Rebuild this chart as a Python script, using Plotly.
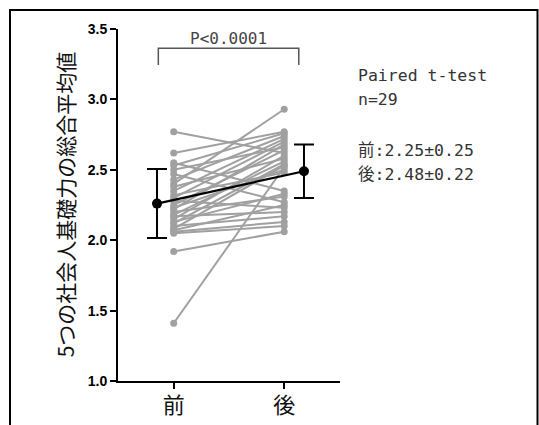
import plotly.graph_objects as go

# ---- data ----
categories = ["前", "後"]
pre_values = [2.77, 2.62, 1.92, 1.41, 2.40,
              2.55, 2.53, 2.50, 2.47, 2.43, 2.38, 2.35, 2.32, 2.30, 2.28, 2.25,
              2.23, 2.22, 2.20, 2.18, 2.17, 2.15, 2.13, 2.12, 2.10, 2.08, 2.07,
              2.06, 2.05]
post_values = [2.62, 2.77, 2.06, 2.52, 2.93,
               2.35, 2.76, 2.66, 2.27, 2.74, 2.58, 2.72, 2.48, 2.70, 2.23, 2.64,
               2.50, 2.68, 2.31, 2.56, 2.20, 2.60, 2.33, 2.54, 2.17, 2.53, 2.25,
               2.13, 2.10]
group_means = [2.26, 2.49]
group_sds = [0.245, 0.19]
p_label = "P<0.0001"
stats_lines = ["Paired t-test", "n=29", "前:2.25±0.25", "後:2.48±0.22"]
y_title = "5つの社会人基礎力の総合平均値"
y_ticks = [1.0, 1.5, 2.0, 2.5, 3.0, 3.5]

# ---- styling / positions ----
W, H = 539, 425
L, R, T, B = 118, 199, 29, 44
PW, PH = W - L - R, H - T - B


def px_x(X):
    return (X - L) / PW


def px_y(Y):
    return (H - B - Y) / PH


mean_x = [-0.151, 1.179]
gray = "#a0a0a0"
mono = "DejaVu Sans Mono, Noto Sans CJK JP, monospace"

fig = go.Figure()

xs, ys = [], []
for a, b in zip(pre_values, post_values):
    xs += [0, 1, None]
    ys += [a, b, None]
fig.add_trace(go.Scatter(x=xs, y=ys, mode="lines+markers",
                         line=dict(color=gray, width=2),
                         marker=dict(color=gray, size=7),
                         hoverinfo="skip", showlegend=False))

fig.add_trace(go.Scatter(x=mean_x, y=group_means, mode="lines+markers",
                         line=dict(color="black", width=2.2),
                         marker=dict(color="black", size=10),
                         error_y=dict(type="data", array=group_sds, visible=True,
                                      color="black", thickness=2, width=10),
                         showlegend=False))

# significance bracket
fig.add_trace(go.Scatter(x=[-0.139, -0.139, 1.132, 1.132],
                         y=[3.244, 3.363, 3.363, 3.244], mode="lines",
                         line=dict(color="#555555", width=1.5),
                         hoverinfo="skip", showlegend=False))
fig.add_annotation(x=0.497, y=3.43, xref="x", yref="y", text=p_label,
                   showarrow=False, font=dict(family=mono, size=16, color="#444444"),
                   xanchor="center", yanchor="middle")

# stats text
ly = [75, 99.5, 150, 174]
for t, yy in zip(stats_lines, ly):
    fig.add_annotation(x=px_x(355.8), y=px_y(yy), xref="paper", yref="paper",
                       text=t, showarrow=False, xanchor="left", yanchor="middle",
                       font=dict(family=mono, size=16.5, color="#333333"))

# y title
fig.add_annotation(x=px_x(65.3), y=px_y(204), xref="paper", yref="paper",
                   text=y_title, textangle=-90, showarrow=False,
                   xanchor="center", yanchor="middle",
                   font=dict(family="Noto Sans CJK JP", size=21, color="#111111"))

# outer frame (open at the bottom, cut by the image edge)
fx0, fx1, fy0, fy1 = px_x(10), px_x(537.5), px_y(H), px_y(10)
fig.add_shape(type="path", xref="paper", yref="paper",
              path=f"M {fx0},{fy0} L {fx0},{fy1} L {fx1},{fy1} L {fx1},{fy0}",
              line=dict(color="black", width=2))

fig.update_layout(
    width=W, height=H,
    margin=dict(l=L, r=R, t=T, b=B, autoexpand=False),
    paper_bgcolor="white", plot_bgcolor="white",
    showlegend=False,
)
fig.update_xaxes(range=[-0.504, 1.505], tickvals=[0, 1], ticktext=categories,
                 automargin=False,
                 showgrid=False, zeroline=False, showline=True, linecolor="black",
                 linewidth=2, ticks="outside", ticklen=6, tickwidth=2, tickcolor="black",
                 ticklabelstandoff=-2,
                 tickfont=dict(family="Noto Sans CJK JP", size=22, color="#111111"))
fig.update_yaxes(range=[1.0, 3.5], tickvals=y_ticks,
                 ticktext=[f"{v:.1f}" for v in y_ticks],
                 automargin=False,
                 showgrid=False, zeroline=False, showline=True, linecolor="black",
                 linewidth=2, ticks="outside", ticklen=6, tickwidth=2, tickcolor="black",
                 tickfont=dict(family="Liberation Sans, Arial", size=14, color="black",
                               weight="bold"))

fig.write_html("out.html", config={"displayModeBar": False},
               post_script="document.body.style.margin='0';document.body.style.overflow='hidden';")
